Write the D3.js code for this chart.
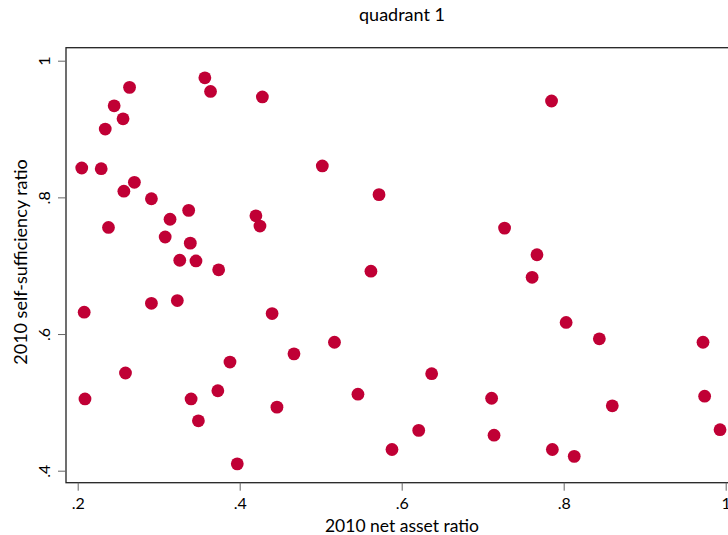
<!DOCTYPE html>
<html>
<head>
<meta charset="utf-8">
<script src="https://cdn.jsdelivr.net/npm/d3@7"></script>
<style>
  body { margin: 0; background: #fff; }
  text { font-family: Lato, "Open Sans", sans-serif; fill: #000; }
</style>
</head>
<body>
<div id="chart"></div>
<script>
// 2010 net asset ratio (x) vs 2010 self-sufficiency ratio (y)
const netAsset = [
  0.205, 0.229, 0.234, 0.245, 0.256, 0.264, 0.357, 0.364, 0.257, 0.270,
  0.291, 0.238, 0.314, 0.337, 0.308, 0.339, 0.326, 0.346, 0.374, 0.420,
  0.425, 0.428, 0.502, 0.572, 0.562, 0.208, 0.291, 0.323, 0.440, 0.209,
  0.259, 0.340, 0.349, 0.373, 0.388, 0.397, 0.467, 0.517, 0.446, 0.546,
  0.637, 0.621, 0.588, 0.711, 0.714, 0.803, 0.844, 0.972, 0.860, 0.974,
  0.993, 0.786, 0.813, 0.785, 0.727, 0.767, 0.761
];
const selfSuff = [
  0.843, 0.842, 0.900, 0.934, 0.915, 0.961, 0.975, 0.955, 0.809, 0.822,
  0.798, 0.756, 0.768, 0.781, 0.742, 0.733, 0.708, 0.707, 0.694, 0.773,
  0.758, 0.947, 0.846, 0.804, 0.692, 0.632, 0.645, 0.649, 0.630, 0.505,
  0.543, 0.505, 0.473, 0.517, 0.559, 0.410, 0.571, 0.588, 0.493, 0.512,
  0.542, 0.459, 0.431, 0.506, 0.452, 0.617, 0.593, 0.588, 0.495, 0.509,
  0.460, 0.431, 0.421, 0.941, 0.755, 0.716, 0.683
];
const xTicks = [0.2, 0.4, 0.6, 0.8, 1];
const yTicks = [0.4, 0.6, 0.8, 1];
const tickFmt = v => v === 1 ? "1" : String(v).replace(/^0/, "");

const width = 728, height = 535;
const frame = {left: 66, top: 47.7, bottom: 482.7, right: 760};

const svg = d3.select("#chart").append("svg")
  .attr("width", width)
  .attr("height", height);

const x = d3.scaleLinear().domain([0.2, 1]).range([77.7, 725.7]);
const y = d3.scaleLinear().domain([0.4, 1]).range([470.7, 60.7]);

// plot region outline (right side runs off the page)
svg.append("rect")
  .attr("x", frame.left)
  .attr("y", frame.top)
  .attr("width", frame.right - frame.left)
  .attr("height", frame.bottom - frame.top)
  .attr("fill", "none")
  .attr("stroke", "#222")
  .attr("stroke-width", 1.3);

const xAxis = svg.append("g")
  .attr("transform", `translate(0,${frame.bottom})`)
  .call(d3.axisBottom(x).tickValues(xTicks).tickFormat(tickFmt).tickSize(8).tickPadding(7));
const yAxis = svg.append("g")
  .attr("transform", `translate(${frame.left},0)`)
  .call(d3.axisLeft(y).tickValues(yTicks).tickFormat(tickFmt).tickSize(8).tickPadding(6));

[xAxis, yAxis].forEach(ax => {
  ax.select(".domain").remove();
  ax.selectAll(".tick line").attr("stroke", "#666").attr("stroke-width", 1);
  ax.selectAll(".tick text").style("font-size", "16px").attr("fill", "#000");
});
yAxis.selectAll(".tick text")
  .attr("text-anchor", "middle")
  .attr("x", null)
  .attr("dy", null)
  .attr("transform", "translate(-16,0) rotate(-90)");

svg.append("g")
  .selectAll("circle")
  .data(netAsset.map((d, i) => [d, selfSuff[i]]))
  .join("circle")
    .attr("cx", d => x(d[0]))
    .attr("cy", d => y(d[1]))
    .attr("r", 6.4)
    .attr("fill", "#C00035");

svg.append("text")
  .attr("x", 402)
  .attr("y", 21)
  .attr("text-anchor", "middle")
  .style("font-size", "18px")
  .text("quadrant 1");

svg.append("text")
  .attr("x", 402)
  .attr("y", 531.5)
  .attr("text-anchor", "middle")
  .style("font-size", "17.5px")
  .text("2010 net asset ratio");

svg.append("text")
  .attr("transform", "translate(27,262) rotate(-90)")
  .attr("text-anchor", "middle")
  .style("font-size", "18px")
  .text("2010 self-sufficiency ratio");
</script>
</body>
</html>
